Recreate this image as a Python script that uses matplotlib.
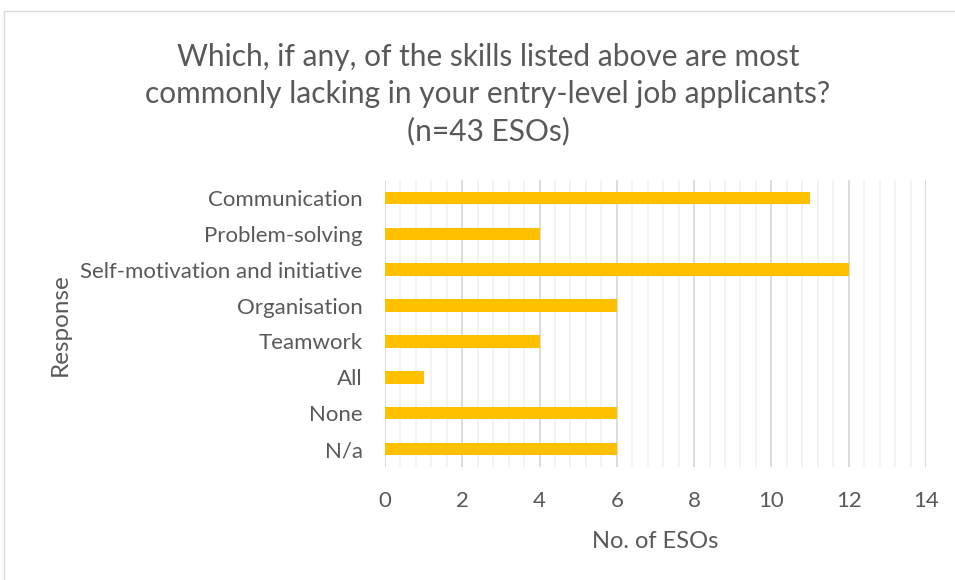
import matplotlib.pyplot as plt
from matplotlib.ticker import MultipleLocator
from matplotlib.patches import Rectangle

# survey responses
responses = ["Communication", "Problem-solving", "Self-motivation and initiative",
             "Organisation", "Teamwork", "All", "None", "N/a"]
counts = [11, 4, 12, 6, 4, 1, 6, 6]

grey = "#595959"
plt.rcParams['font.family'] = ['Lato', 'DejaVu Sans']

fig = plt.figure(figsize=(9.55, 5.8), dpi=100)
ax = fig.add_axes([0.4031, 0.1948, 0.5665, 0.4948])

# chart frame (only top/left edges fall inside the image)
fig.patches.append(Rectangle((4 / 955, -0.1), 1.2, 1 - 11 / 580 + 0.1,
                             transform=fig.transFigure, fill=False,
                             edgecolor="#d9d9d9", linewidth=1))

y = list(range(len(responses)))
ax.barh(y, counts, height=0.35, color="#FFC000", zorder=3)
ax.set_yticks(y)
ax.set_yticklabels(responses)
ax.set_ylim(len(responses) - 0.5, -0.5)

ax.set_xlim(0, 14)
ax.xaxis.set_major_locator(MultipleLocator(2))
ax.xaxis.set_minor_locator(MultipleLocator(0.4))
ax.grid(axis="x", which="major", color="#d9d9d9", linewidth=1.3, zorder=1)
ax.grid(axis="x", which="minor", color="#f2f2f2", linewidth=1.3, zorder=0)

for s in ax.spines.values():
    s.set_visible(False)
ax.tick_params(axis="both", which="both", length=0, colors=grey, labelsize=16)
ax.tick_params(axis="y", pad=16)
ax.tick_params(axis="x", pad=17)

ax.set_xlabel("No. of ESOs", fontsize=17, color=grey, labelpad=15)
fig.text(60 / 955, 1 - 325 / 580, "Response", rotation=90, fontsize=17.5,
         color=grey, ha="center", va="center")

fig.text(488 / 955, 1 - 94 / 580,
         "Which, if any, of the skills listed above are most\n"
         "commonly lacking in your entry-level job applicants?\n"
         "(n=43 ESOs)",
         ha="center", va="center", fontsize=21.5, color=grey, linespacing=1.38)

fig.savefig("out.png", dpi=100)
